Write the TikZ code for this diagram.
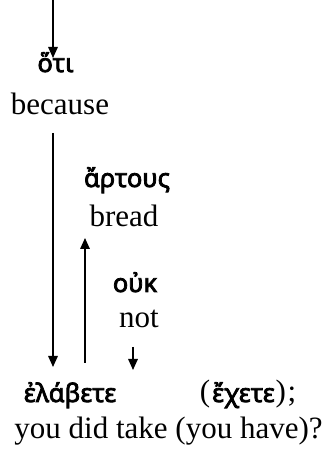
\documentclass[tikz,border=0pt]{standalone}
\usepackage{fontspec}
\setmainfont{Liberation Serif}
\newfontfamily\greekfont[FakeBold=3]{Noto Sans}
\usetikzlibrary{arrows.meta}
\tikzset{
  gr/.style={font=\greekfont\fontsize{25.5}{28}\selectfont, anchor=base, inner sep=0pt},
  en/.style={font=\fontsize{31}{36}\selectfont, anchor=base, inner sep=0pt},
  link/.style={line width=1.6pt, -{Triangle[length=11pt,width=9.5pt]}}
}
\newcommand{\pun}[1]{{\rmfamily\fontsize{31}{34}\selectfont #1}}
\begin{document}
\begin{tikzpicture}[x=1pt,y=1pt]
\useasboundingbox (0,0) rectangle (331,450);
% words and glosses
\node[gr] (hoti) at (55.5,378) {ὅτι};
\node[en] (because) at (60,335) {because};
\node[gr] (artous) at (127,263) {ἄρτους};
\node[en] (bread) at (124,223) {bread};
\node[gr] (ouk) at (135,158) {οὐκ};
\node[en] (not) at (139,122) {not};
\node[gr] (elabete) at (70,48) {ἐλάβετε};
\node[gr] (echete) at (248,48) {\pun{(}\kern2ptἔχετε\kern1pt\pun{)}\kern1.5pt\pun{;}};
\node[en] (gloss) at (168.5,12) {you did take (you have)?};
% connector end points
\coordinate (top) at (53,450);
\coordinate (hotiIn) at (53,392);
\coordinate (becOut) at (53,317);
\coordinate (elabIn) at (53,83);
\coordinate (upFrom) at (85,87);
\coordinate (breadIn) at (85,212);
\coordinate (notOut) at (133,103);
\coordinate (notIn) at (133,80);
% connectors
\draw[link] (top) -- (hotiIn);
\draw[link] (becOut) -- (elabIn);
\draw[link] (upFrom) -- (breadIn);
\draw[link] (notOut) -- (notIn);
\end{tikzpicture}
\end{document}
